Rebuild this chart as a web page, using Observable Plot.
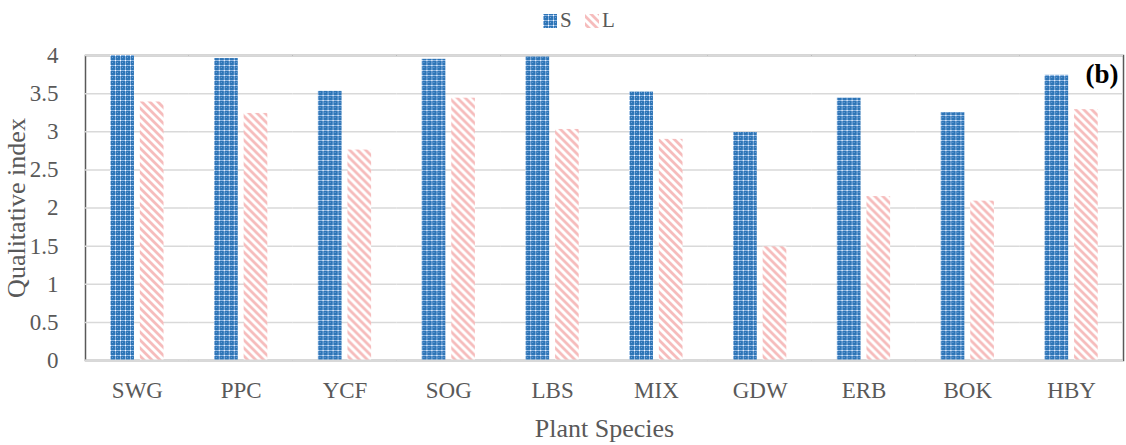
<!DOCTYPE html>
<html>
<head>
<meta charset="utf-8">
<script src="https://cdn.jsdelivr.net/npm/d3@7"></script>
<script src="https://cdn.jsdelivr.net/npm/@observablehq/plot@0.6"></script>
<style>
  html, body { margin: 0; padding: 0; background: #fff; }
  #wrap { width: 1126px; height: 445px; position: relative; font-family: 'Liberation Serif', 'Times New Roman', serif; }
  #legend { height: 40px; position: relative; }
  #legend .item { position: absolute; top: 0; height: 40px; }
  #legend .lab { position: absolute; top: 8px; font-size: 21px; color: #595959; line-height: 24px; font-family: 'Liberation Serif', serif; }
  svg text { font-family: 'Liberation Serif', 'Times New Roman', serif; }
  g[aria-label="y-axis label"] text, g[aria-label="fx-axis label"] text { font-size: 26px; }
</style>
</head>
<body>
<div id="wrap">
  <div id="legend"></div>
  <div id="chart"></div>
</div>
<script>
const species = ["SWG", "PPC", "YCF", "SOG", "LBS", "MIX", "GDW", "ERB", "BOK", "HBY"];
const seriesNames = ["S", "L"];
const valuesS = [4.00, 3.96, 3.53, 3.95, 3.98, 3.52, 2.99, 3.44, 3.25, 3.74];
const valuesL = [3.39, 3.24, 2.76, 3.44, 3.03, 2.90, 1.49, 2.15, 2.09, 3.29];
const yTicks = [0, 0.5, 1, 1.5, 2, 2.5, 3, 3.5, 4];
const panelTag = "(b)";

const data = species.flatMap((sp, i) => [
  {species: sp, series: "S", value: valuesS[i]},
  {species: sp, series: "L", value: valuesL[i]}
]);

function patternDefs(suffix) {
  return `
  <pattern id="patS${suffix}" width="5" height="5" patternUnits="userSpaceOnUse">
    <rect width="5" height="5" fill="#2e75b6"/>
    <rect x="0" y="0" width="5" height="1" fill="#8db5e2"/>
    <rect x="0" y="0" width="1" height="5" fill="#8db5e2"/>
    <rect x="0" y="0" width="1" height="1" fill="#ffffff"/>
    <rect x="2" y="2" width="1" height="1" fill="#6d9fd8"/>
  </pattern>
  <pattern id="patL${suffix}" width="8" height="8" patternUnits="userSpaceOnUse">
    <rect width="8" height="8" fill="#ffffff"/>
    <path d="M-1,-1 L9,9 M-1,7 L1,9 M7,-1 L9,1" stroke="#f6bcbc" stroke-width="2.8" fill="none"/>
  </pattern>`;
}

const chart = Plot.plot({
  width: 1126,
  height: 405,
  marginTop: 15,
  marginBottom: 85,
  marginLeft: 85,
  marginRight: 3,
  style: {fontFamily: "'Liberation Serif', 'Times New Roman', serif", fontSize: "23px", color: "#595959", background: "white"},
  fx: {domain: species, padding: 0, round: false, label: "Plant Species", labelAnchor: "center", labelOffset: 76, tickPadding: 21, tickSize: 0, axis: "bottom"},
  x: {domain: seriesNames, paddingInner: 0.2, paddingOuter: 0.855, round: false, axis: null},
  y: {domain: [0, 4], ticks: yTicks, tickFormat: d => String(d), tickSize: 0, tickPadding: 27, label: "Qualitative index", labelArrow: "none", labelAnchor: "center", labelOffset: 79},
  color: {domain: seriesNames, range: ["url(#patS)", "url(#patL)"]},
  marks: [
    Plot.frame({facet: "super", stroke: "#595959", strokeWidth: 1.5}),
    Plot.gridY(yTicks, {stroke: "#d9d9d9", strokeOpacity: 1, strokeWidth: 1.5}),
    Plot.barY(data, {fx: "species", x: "series", y: "value", fill: "series"}),
    Plot.ruleY([0], {stroke: "#d9d9d9", strokeWidth: 2}),
    Plot.text([panelTag], {facet: "super", frameAnchor: "top-right", text: d => d, textAnchor: "end", lineAnchor: "bottom", dx: -5, dy: 27, fontSize: 27, fontWeight: "bold", fill: "#000"})
  ]
});

const defs = document.createElementNS("http://www.w3.org/2000/svg", "defs");
defs.innerHTML = patternDefs("");
chart.insertBefore(defs, chart.firstChild);
document.getElementById("chart").appendChild(chart);

// legend
const legend = document.getElementById("legend");
const legendItems = [
  {name: seriesNames[0], fill: "url(#patSleg)", x: 543},
  {name: seriesNames[1], fill: "url(#patLleg)", x: 585}
];
const legSvg = `<svg width="1" height="1" style="position:absolute;left:0;top:0"><defs>${patternDefs("leg")}</defs></svg>`;
legend.innerHTML = legSvg + legendItems.map(it =>
  `<div class="item" style="left:${it.x}px">
     <svg width="15" height="40" style="position:absolute;left:0;top:0"><rect x="0" y="14" width="14" height="14" fill="${it.fill}"/></svg>
     <span class="lab" style="left:17px">${it.name}</span>
   </div>`).join("");
</script>
</body>
</html>
